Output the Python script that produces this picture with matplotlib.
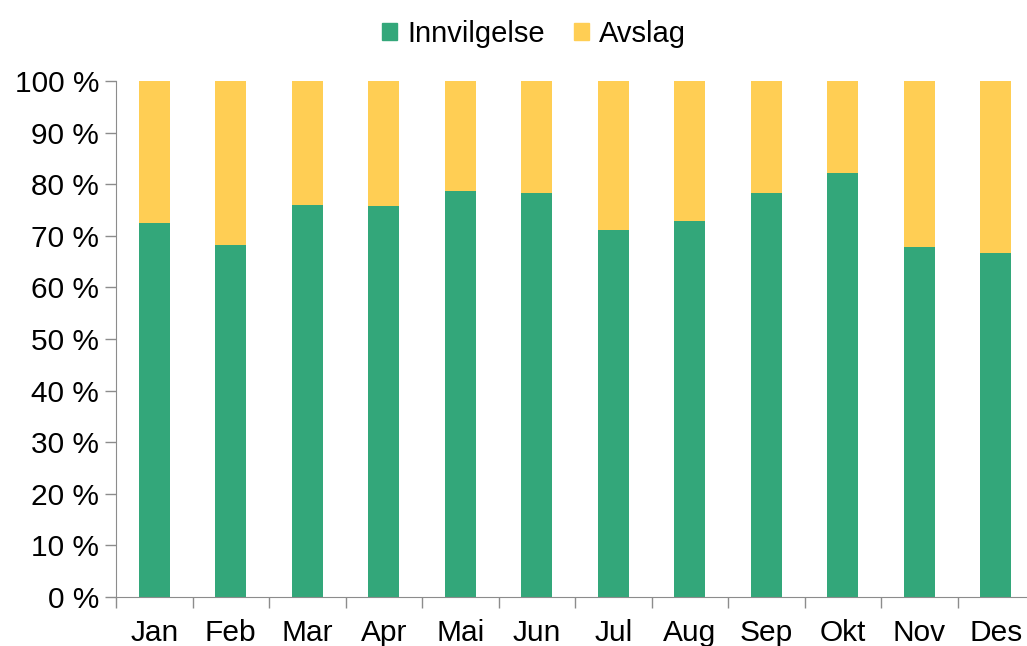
import matplotlib

matplotlib.use('Agg')
from matplotlib import pyplot as plt  # noqa: E402
from matplotlib.ticker import FuncFormatter, MultipleLocator  # noqa: E402
from matplotlib.patches import Patch  # noqa: E402

months = ['Jan', 'Feb', 'Mar', 'Apr', 'Mai', 'Jun', 'Jul', 'Aug', 'Sep', 'Okt', 'Nov', 'Des']
innvilgelse = [72.5, 68.3, 76.0, 75.8, 78.7, 78.2, 71.1, 72.8, 78.2, 82.2, 67.8, 66.6]
avslag = [100 - v for v in innvilgelse]

green = '#33a77a'
yellow = '#ffce54'

plt.rcParams['font.family'] = ['Liberation Sans', 'DejaVu Sans']

W, H = 1027, 646
fig = plt.figure(figsize=(W / 100, H / 100), dpi=100)
ax = fig.add_axes([116 / W, (H - 597) / H, 918 / W, 516 / H])

pos = range(len(months))
ax.bar(pos, innvilgelse, width=0.4, color=green, label='Innvilgelse')
ax.bar(pos, avslag, width=0.4, bottom=innvilgelse, color=yellow, label='Avslag')

ax.set_xlim(-0.5, len(months) - 0.5)
ax.set_ylim(0, 100)
ax.yaxis.set_major_locator(MultipleLocator(10))
ax.yaxis.set_major_formatter(FuncFormatter(lambda v, _: f'{v:.0f} %'))
ax.set_xticks(list(pos))
ax.set_xticklabels(months)
ax.set_xticks([p - 0.5 for p in range(len(months) + 1)], minor=True)
ax.tick_params(axis='x', which='major', length=0, labelsize=21.5, pad=16)
ax.tick_params(axis='x', which='minor', length=8, color='#8c8c8c', width=1)
ax.tick_params(axis='y', length=8, color='#8c8c8c', width=1, labelsize=21.5, pad=4)

for side in ['top', 'right']:
    ax.spines[side].set_visible(False)
for side in ['left', 'bottom']:
    ax.spines[side].set_color('#8c8c8c')

handles = [Patch(color=green, label='Innvilgelse'), Patch(color=yellow, label='Avslag')]
fig.legend(handles=handles, loc='upper center', bbox_to_anchor=(0.52, 1.01), ncol=2,
           frameon=False, fontsize=21, handlelength=0.5, handleheight=0.5,
           handletextpad=0.35, columnspacing=1.0)

fig.savefig('out.png', dpi=100)
